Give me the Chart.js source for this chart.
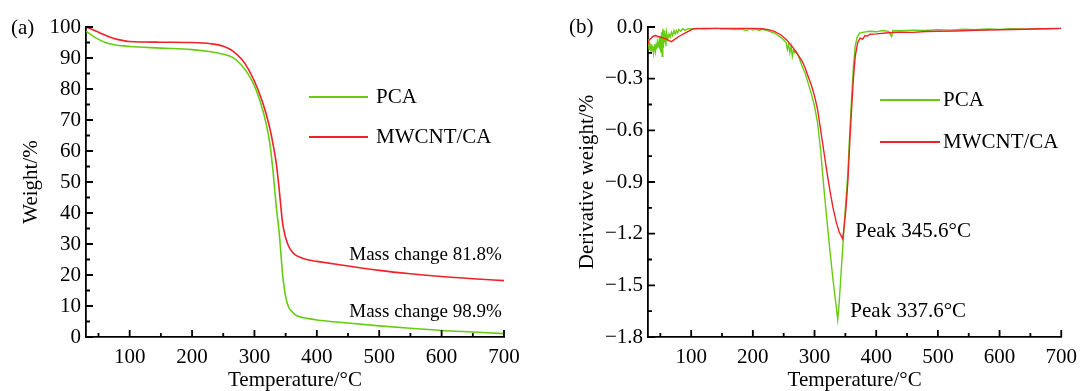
<!DOCTYPE html>
<html>
<head>
<meta charset="utf-8">
<script src="https://cdn.jsdelivr.net/npm/chart.js@4.4.0/dist/chart.umd.min.js"></script>
<style>
  html, body { margin: 0; padding: 0; background: #fff; }
  #wrap { position: relative; width: 1085px; height: 391px; overflow: hidden; }
  #wrap canvas { position: absolute; top: 0; }
</style>
</head>
<body>
<div id="wrap">
  <canvas id="tga" width="545" height="391" style="left:0"></canvas>
  <canvas id="dtg" width="540" height="391" style="left:545px"></canvas>
</div>
<script>
// (a) TGA 曲線
const tgaTemp = [30, 40, 50, 60, 70, 80, 90, 100, 150, 200, 230, 250, 265, 280, 290, 300, 310, 318, 325, 330, 335, 340, 345, 350, 355, 360, 365, 372, 385, 400, 450, 500, 550, 600, 650, 700];
const tgaPCA  = [98.7, 97.2, 96, 95.1, 94.5, 94.1, 93.9, 93.7, 93.2, 92.7, 92, 91.2, 90.2, 87.5, 84.8, 81, 75.5, 69.5, 62, 53, 42, 33, 20.5, 13, 9.5, 8.2, 7.2, 6.5, 6, 5.5, 4.5, 3.6, 2.8, 2.1, 1.6, 1.1];
const tgaCNT  = [100, 99.2, 98.3, 97.4, 96.6, 96, 95.6, 95.3, 95.1, 95, 94.6, 93.8, 92.3, 89.5, 86.5, 82.5, 77.5, 72.5, 67, 62, 56, 47, 37, 32, 29.2, 27.6, 26.6, 25.8, 24.9, 24.4, 22.9, 21.5, 20.4, 19.5, 18.8, 18.2];

// (b) DTG 曲線
const dtgTempPCA = [30, 31, 32, 33, 34, 35, 36, 37, 38, 39, 40, 41, 42, 43, 44, 45, 46, 47, 48, 49, 50, 51, 52, 53, 54, 55, 56, 57, 58, 59, 60, 62, 64, 66, 68, 70, 72, 74, 76, 78, 80, 83, 86, 90, 95, 100,
  110, 120, 130, 140, 150, 160, 170, 180, 190, 195, 200, 205, 210, 215, 220, 225, 230, 235, 240, 245, 250, 254, 256, 258, 260, 262, 264, 266, 268, 270, 275, 280, 285, 290, 295, 300, 305, 310, 315, 320, 325, 330, 335, 337.6,
  340, 345, 350, 354, 357, 360, 363, 366, 369, 373, 380, 390, 400, 410, 420, 425, 427, 440, 460, 480, 500, 520, 540, 560, 580, 600, 620, 640, 660, 680, 700];
const dtgPCA = [-0.07, -0.1, -0.13, -0.09, -0.12, -0.14, -0.1, -0.13, -0.11, -0.15, -0.12, -0.1, -0.14, -0.11, -0.13, -0.09, -0.12, -0.1, -0.08, -0.13, -0.06, -0.15, -0.03, -0.17, -0.01, -0.12, -0.02, -0.09, -0.04, -0.11, -0.03, -0.07, -0.04, -0.06, -0.03, -0.05, -0.02, -0.04, -0.02, -0.035, -0.015, -0.025, -0.01, -0.02, -0.01, -0.012,
  -0.008, -0.012, -0.01, -0.008, -0.012, -0.01, -0.015, -0.012, -0.02, -0.01, -0.018, -0.012, -0.02, -0.013, -0.018, -0.022, -0.03, -0.035, -0.048, -0.06, -0.075, -0.09, -0.13, -0.1, -0.15, -0.11, -0.17, -0.13, -0.15, -0.14, -0.18, -0.23, -0.27, -0.33, -0.39, -0.46, -0.56, -0.72, -0.93, -1.12, -1.3, -1.47, -1.62, -1.7,
  -1.6, -1.32, -1.05, -0.85, -0.62, -0.42, -0.23, -0.11, -0.06, -0.035, -0.03, -0.025, -0.028, -0.02, -0.025, -0.055, -0.02, -0.022, -0.018, -0.02, -0.015, -0.018, -0.013, -0.016, -0.012, -0.014, -0.01, -0.013, -0.009, -0.011, -0.008];

const dtgTempCNT = [30, 32, 35, 38, 42, 46, 50, 55, 60, 65, 68, 72, 80, 90, 100, 105, 120, 150, 180, 200, 215, 225, 235, 245, 255, 265, 273, 280, 285, 290, 295, 300, 305, 310, 315, 320, 325, 330, 335, 340, 345.6,
  348, 351, 354, 357, 360, 363, 366, 370, 374, 378, 382, 386, 390, 400, 420, 440, 460, 480, 500, 530, 560, 600, 640, 670, 700];
const dtgCNT = [-0.1, -0.075, -0.065, -0.055, -0.05, -0.055, -0.058, -0.065, -0.07, -0.08, -0.085, -0.075, -0.055, -0.035, -0.017, -0.01, -0.008, -0.008, -0.008, -0.008, -0.01, -0.015, -0.025, -0.045, -0.075, -0.12, -0.16, -0.2, -0.24, -0.29, -0.34, -0.4, -0.48, -0.6, -0.72, -0.84, -0.95, -1.05, -1.13, -1.19, -1.23,
  -1.16, -1.05, -0.9, -0.68, -0.48, -0.3, -0.17, -0.09, -0.065, -0.07, -0.05, -0.052, -0.042, -0.04, -0.033, -0.03, -0.031, -0.026, -0.025, -0.023, -0.019, -0.016, -0.013, -0.01, -0.008];

// 目盛り
const tempTicks = [100, 200, 300, 400, 500, 600, 700];
const weightTicks = [0, 10, 20, 30, 40, 50, 60, 70, 80, 90, 100];
const derivTicks = [-1.8, -1.5, -1.2, -0.9, -0.6, -0.3, 0];

const GREEN = '#66cc11';
const RED = '#ee2228';
const FONT = '"Liberation Serif", "Times New Roman", serif';

Chart.defaults.font.family = FONT;
Chart.defaults.font.size = 21;
Chart.defaults.color = '#000';

function pts(xs, ys) {
  return xs.map((x, i) => ({ x: x, y: ys[i] }));
}

// 内向きの目盛り・凡例・注記を描く
const decor = {
  id: 'decor',
  afterDraw(chart, args, o) {
    const ctx = chart.ctx;
    const xs = chart.scales.x, ys = chart.scales.y;
    ctx.save();
    ctx.strokeStyle = '#000';
    ctx.lineWidth = 1.8;
    ctx.beginPath();
    o.xMajor.forEach(v => { const p = xs.getPixelForValue(v); ctx.moveTo(p, ys.bottom); ctx.lineTo(p, ys.bottom - 7); });
    o.xMinor.forEach(v => { const p = xs.getPixelForValue(v); ctx.moveTo(p, ys.bottom); ctx.lineTo(p, ys.bottom - 4); });
    o.yMajor.forEach(v => { const p = ys.getPixelForValue(v); ctx.moveTo(xs.left, p); ctx.lineTo(xs.left + 7, p); });
    o.yMinor.forEach(v => { const p = ys.getPixelForValue(v); ctx.moveTo(xs.left, p); ctx.lineTo(xs.left + 4, p); });
    ctx.stroke();

    ctx.fillStyle = '#000';
    ctx.textBaseline = 'middle';
    ctx.textAlign = 'left';
    ctx.font = '21px ' + FONT;
    ctx.fillText(o.tag, o.tagX, o.tagY);

    // 凡例
    chart.data.datasets.forEach((ds, i) => {
      const y = o.legend.y[i];
      ctx.strokeStyle = ds.borderColor;
      ctx.lineWidth = 2;
      ctx.beginPath();
      ctx.moveTo(o.legend.x0, y);
      ctx.lineTo(o.legend.x1, y);
      ctx.stroke();
      ctx.fillText(ds.label, o.legend.tx, y);
    });

    // 注記
    o.notes.forEach(n => {
      ctx.font = n.size + 'px ' + FONT;
      ctx.fillText(n.text, xs.getPixelForValue(n.x), ys.getPixelForValue(n.y));
    });
    ctx.restore();
  }
};

function axisX(pad) {
  return {
    type: 'linear',
    min: 30,
    max: 700,
    afterBuildTicks: s => { s.ticks = tempTicks.map(v => ({ value: v })); },
    afterFit: s => { s.height = 54; },
    grid: { display: false, drawTicks: false },
    border: { display: true, color: '#000', width: 1.8 },
    ticks: { padding: pad, maxRotation: 0, autoSkip: false },
    title: { display: true, text: 'Temperature/\u00b0C', padding: { top: 0, bottom: -2 } }
  };
}

// (a)
new Chart(document.getElementById('tga'), {
  type: 'line',
  data: {
    datasets: [
      { label: 'PCA', data: pts(tgaTemp, tgaPCA), borderColor: GREEN, borderWidth: 1.6, pointRadius: 0, cubicInterpolationMode: 'monotone', fill: false },
      { label: 'MWCNT/CA', data: pts(tgaTemp, tgaCNT), borderColor: RED, borderWidth: 1.6, pointRadius: 0, cubicInterpolationMode: 'monotone', fill: false }
    ]
  },
  options: {
    responsive: false,
    animation: false,
    devicePixelRatio: 1,
    layout: { padding: { left: 19, top: 27, right: 41, bottom: 0 } },
    scales: {
      x: axisX(8),
      y: {
        type: 'linear',
        min: 0,
        max: 100,
        afterBuildTicks: s => { s.ticks = weightTicks.map(v => ({ value: v })); },
        afterFit: s => { s.width = 67; },
        grid: { display: false, drawTicks: false },
        border: { display: true, color: '#000', width: 1.8 },
        ticks: { padding: 5 },
        title: { display: true, text: 'Weight/%', padding: { top: 0, bottom: 0 } }
      }
    },
    plugins: {
      legend: { display: false },
      tooltip: { enabled: false },
      decor: {
        xMajor: tempTicks,
        xMinor: tempTicks.map(v => v - 50),
        yMajor: weightTicks,
        yMinor: weightTicks.slice(1).map(v => v - 5),
        tag: '(a)', tagX: 11, tagY: 28,
        legend: { x0: 309, x1: 368, tx: 376, y: [97, 137] },
        notes: [
          { text: 'Mass change 81.8%', x: 452, y: 26.5, size: 19 },
          { text: 'Mass change 98.9%', x: 452, y: 8.2, size: 19 }
        ]
      }
    }
  },
  plugins: [decor]
});

// (b)
new Chart(document.getElementById('dtg'), {
  type: 'line',
  data: {
    datasets: [
      { label: 'PCA', data: pts(dtgTempPCA, dtgPCA), borderColor: GREEN, borderWidth: 1.4, pointRadius: 0, tension: 0, fill: false, order: 2 },
      { label: 'MWCNT/CA', data: pts(dtgTempCNT, dtgCNT), borderColor: RED, borderWidth: 1.4, pointRadius: 0, tension: 0, fill: false, order: 1 }
    ]
  },
  options: {
    responsive: false,
    animation: false,
    devicePixelRatio: 1,
    layout: { padding: { left: 30, top: 27, right: 18, bottom: 0 } },
    scales: {
      x: axisX(8),
      y: {
        type: 'linear',
        min: -1.8,
        max: 0,
        afterBuildTicks: s => { s.ticks = derivTicks.map(v => ({ value: v })); },
        afterFit: s => { s.width = 73; },
        grid: { display: false, drawTicks: false },
        border: { display: true, color: '#000', width: 1.8 },
        ticks: { padding: 5, callback: v => (Math.abs(v) < 1e-9 ? '0.0' : '\u2212' + Math.abs(v).toFixed(1)) },
        title: { display: true, text: 'Derivative weight/%', padding: { top: 0, bottom: 0 } }
      }
    },
    plugins: {
      legend: { display: false },
      tooltip: { enabled: false },
      decor: {
        xMajor: tempTicks,
        xMinor: tempTicks.map(v => v - 50),
        yMajor: derivTicks,
        yMinor: derivTicks.slice(1).map(v => v - 0.15),
        tag: '(b)', tagX: 24, tagY: 27,
        legend: { x0: 335, x1: 395, tx: 398, y: [100, 142] },
        notes: [
          { text: 'Peak 345.6\u00b0C', x: 366, y: -1.19, size: 21 },
          { text: 'Peak 337.6\u00b0C', x: 358, y: -1.65, size: 21 }
        ]
      }
    }
  },
  plugins: [decor]
});
</script>
</body>
</html>
